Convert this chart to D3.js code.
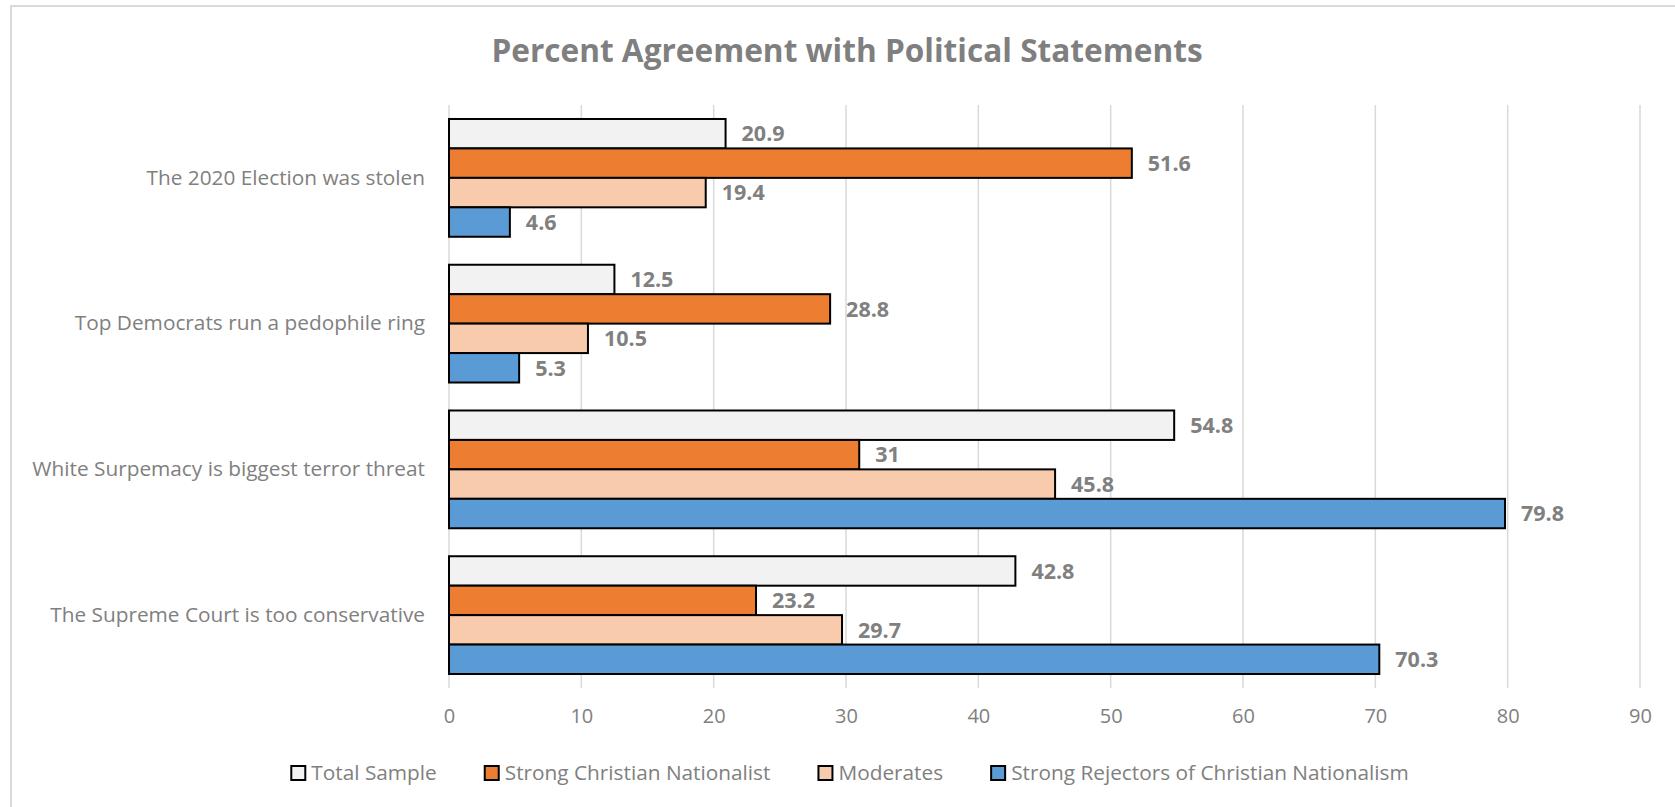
<!DOCTYPE html>
<html lang="en">
  <head>
    <meta charset="UTF-8" />
    <title>Percent Agreement with Political Statements</title>
    <script src="https://d3js.org/d3.v7.min.js"></script>
    <style>
      body { margin: 0; background: #ffffff; }
      svg { display: block; font-family: "Open Sans", "Noto Sans", sans-serif; }
    </style>
  </head>
  <body>
    <svg id="chart" width="1675" height="807"></svg>
    <script>
      // data
      const categories = [
        "The 2020 Election was stolen",
        "Top Democrats run a pedophile ring",
        "White Surpemacy is biggest terror threat",
        "The Supreme Court is too conservative"
      ];
      const seriesNames = [
        "Total Sample",
        "Strong Christian Nationalist",
        "Moderates",
        "Strong Rejectors of Christian Nationalism"
      ];
      const totalSample = [20.9, 12.5, 54.8, 42.8];
      const strongCN = [51.6, 28.8, 31, 23.2];
      const moderates = [19.4, 10.5, 45.8, 29.7];
      const rejectors = [4.6, 5.3, 79.8, 70.3];
      const xTicks = [0, 10, 20, 30, 40, 50, 60, 70, 80, 90];

      const seriesValues = [totalSample, strongCN, moderates, rejectors];
      const colors = ["#f2f2f2", "#ed7d31", "#f8cbad", "#5b9bd5"];
      const grey = "#808080";

      const svg = d3.select("#chart");

      // frame (only top + left edge show in the picture)
      svg.append("path")
        .attr("d", "M11,807 V6 H1675")
        .attr("fill", "none")
        .attr("stroke", "#d9d9d9")
        .attr("stroke-width", 2);

      svg.append("text")
        .attr("x", 847)
        .attr("y", 62)
        .attr("text-anchor", "middle")
        .attr("font-size", 31.6)
        .attr("font-weight", "bold")
        .attr("fill", "#7f7f7f")
        .text("Percent Agreement with Political Statements");

      const plot = { left: 449, right: 1640, top: 105, bottom: 688 };

      const x = d3.scaleLinear().domain([0, 90]).range([plot.left, plot.right]);
      const y = d3.scaleBand()
        .domain(categories)
        .range([plot.top, plot.bottom])
        .paddingInner(0.192)
        .paddingOuter(0.096);
      const ySub = d3.scaleBand()
        .domain(d3.range(seriesNames.length))
        .range([0, y.bandwidth()]);

      // grid
      svg.append("g")
        .selectAll("line")
        .data(xTicks)
        .join("line")
        .attr("x1", d => x(d))
        .attr("x2", d => x(d))
        .attr("y1", plot.top)
        .attr("y2", plot.bottom)
        .attr("stroke", "#d9d9d9")
        .attr("stroke-width", 1.5);

      // x axis labels
      const xAxis = svg.append("g")
        .attr("transform", `translate(0,${plot.bottom})`)
        .call(d3.axisBottom(x).tickValues(xTicks).tickSize(0).tickPadding(21));
      xAxis.select(".domain").remove();
      xAxis.selectAll("text")
        .attr("font-size", 20)
        .attr("font-family", "Open Sans, sans-serif")
        .attr("fill", grey);

      // category labels
      const yAxis = svg.append("g")
        .attr("transform", `translate(${plot.left},0)`)
        .call(d3.axisLeft(y).tickSize(0).tickPadding(24));
      yAxis.select(".domain").remove();
      yAxis.selectAll("text")
        .attr("font-size", 20.8)
        .attr("font-family", "Open Sans, sans-serif")
        .attr("fill", grey);

      // bars
      const rows = [];
      categories.forEach((c, ci) => {
        seriesValues.forEach((vals, si) => {
          rows.push({ cat: c, s: si, v: vals[ci] });
        });
      });

      const bars = svg.append("g");
      bars.selectAll("rect")
        .data(rows)
        .join("rect")
        .attr("x", x(0))
        .attr("y", d => y(d.cat) + ySub(d.s))
        .attr("width", d => x(d.v) - x(0))
        .attr("height", ySub.bandwidth())
        .attr("fill", d => colors[d.s])
        .attr("stroke", "#000")
        .attr("stroke-width", 2);

      bars.selectAll("text")
        .data(rows)
        .join("text")
        .attr("x", d => x(d.v) + 16)
        .attr("y", d => y(d.cat) + ySub(d.s) + ySub.bandwidth() / 2)
        .attr("dy", "0.36em")
        .attr("font-size", 21.5)
        .attr("font-weight", "bold")
        .attr("fill", grey)
        .text(d => String(d.v));

      // legend
      const legend = svg.append("g").attr("transform", "translate(0,773)");
      const items = legend.selectAll("g")
        .data(seriesNames)
        .join("g");
      items.append("rect")
        .attr("y", -7)
        .attr("width", 14)
        .attr("height", 14)
        .attr("fill", (d, i) => colors[i])
        .attr("stroke", "#000")
        .attr("stroke-width", 2);
      items.append("text")
        .attr("x", 20)
        .attr("dy", "0.35em")
        .attr("font-size", 20.8)
        .attr("fill", grey)
        .text(d => d);

      const gap = 48;
      let widths = [];
      items.each(function () { widths.push(this.getBBox().width); });
      const totalW = d3.sum(widths) + gap * (widths.length - 1);
      let cx = 850 - totalW / 2;
      items.attr("transform", (d, i) => {
        const pos = cx;
        cx += widths[i] + gap;
        return `translate(${pos},0)`;
      });
    </script>
  </body>
</html>
